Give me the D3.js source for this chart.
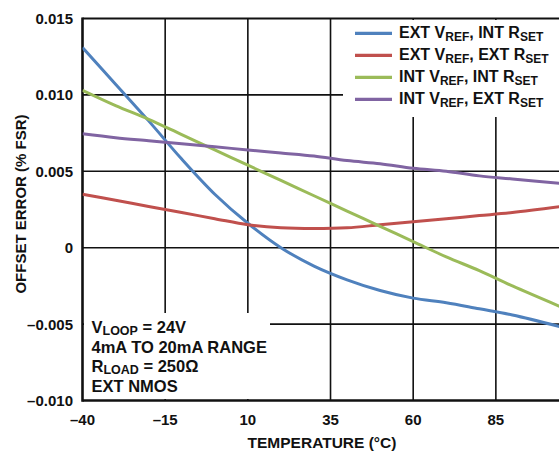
<!DOCTYPE html>
<html><head><meta charset="utf-8">
<script src="https://cdn.jsdelivr.net/npm/d3@7"></script>
<style>
html,body{margin:0;padding:0;background:#fff;}
text{font-family:"Liberation Sans",Arial,sans-serif;font-weight:bold;fill:#111;}
</style></head>
<body>
<svg id="chart" width="559" height="451"></svg>
<script>
const temps = [-40,-30,-20,-10,0,10,20,30,40,50,60,70,80,90,105];
const extRefIntSet = [0.0131,0.0107,0.0083,0.0058,0.0035,0.0016,0.0000,-0.0012,-0.0021,-0.0028,-0.0033,-0.0036,-0.0040,-0.0044,-0.0052];
const extRefExtSet = [0.0035,0.0031,0.0027,0.0023,0.0019,0.0015,0.0013,0.00125,0.0013,0.0015,0.0017,0.0019,0.0021,0.0023,0.0027];
const intRefIntSet = [0.0103,0.0093,0.0084,0.0074,0.0064,0.0054,0.0044,0.0034,0.0024,0.0014,0.0004,-0.0006,-0.0015,-0.0025,-0.0039];
const intRefExtSet = [0.00745,0.0072,0.0070,0.0068,0.0066,0.0064,0.0062,0.0060,0.0057,0.0055,0.0052,0.0050,0.0047,0.0045,0.0042];
const seriesNames = [["EXT V","REF",", INT R","SET"],["EXT V","REF",", EXT R","SET"],["INT V","REF",", INT R","SET"],["INT V","REF",", EXT R","SET"]];
const seriesColors = ["#4f81bd","#c0504d","#9bbb59","#8064a2"];
const xTicks = [-40,-15,10,35,60,85];
const yTicks = [-0.010,-0.005,0,0.005,0.010,0.015];
const yTickLabels = ["–0.010","–0.005","0","0.005","0.010","0.015"];
const notes = [["V","LOOP"," = 24V"],["4mA TO 20mA RANGE"],["R","LOAD"," = 250Ω"],["EXT NMOS"]];

const svg = d3.select("#chart");
const x = d3.scaleLinear().domain([-40,105]).range([82.5,562]);
const y = d3.scaleLinear().domain([-0.010,0.015]).range([400.5,18.5]);
const L=x.range()[0], R=x.range()[1], T=y.range()[1], B=y.range()[0];

// gridlines
const g = svg.append("g");
g.selectAll("line.v").data(xTicks.slice(1)).join("line")
  .attr("x1",d=>x(d)).attr("x2",d=>x(d)).attr("y1",T).attr("y2",B)
  .attr("stroke","#111").attr("stroke-width",1.6);
g.selectAll("line.h").data(yTicks.slice(1,-1)).join("line")
  .attr("x1",L).attr("x2",R).attr("y1",d=>y(d)).attr("y2",d=>y(d))
  .attr("stroke","#111").attr("stroke-width",1.6);

// boxes masking grid
svg.append("rect").attr("x",343).attr("y",T+1.5).attr("width",230).attr("height",117-T-1.5).attr("fill","#fff");
svg.append("rect").attr("x",L+1.5).attr("y",313).attr("width",270-L-1.5).attr("height",B-313-1.5).attr("fill","#fff");

// frame
svg.append("line").attr("x1",L).attr("x2",R).attr("y1",T).attr("y2",T).attr("stroke","#111").attr("stroke-width",2);
svg.append("line").attr("x1",L).attr("x2",R).attr("y1",B).attr("y2",B).attr("stroke","#111").attr("stroke-width",2.6);
svg.append("line").attr("x1",L).attr("x2",L).attr("y1",T-1).attr("y2",B+1.3).attr("stroke","#111").attr("stroke-width",2.6);

// curves
svg.append("clipPath").attr("id","clip").append("rect").attr("x",L).attr("y",T).attr("width",R-L).attr("height",B-T);
const allSeries = [extRefIntSet,extRefExtSet,intRefIntSet,intRefExtSet];
const line = d3.line().x((d,i)=>x(temps[i])).y(d=>y(d)).curve(d3.curveCatmullRom.alpha(0.5));
svg.append("g").attr("clip-path","url(#clip)").selectAll("path").data(allSeries).join("path")
  .attr("d",line).attr("fill","none").attr("stroke",(d,i)=>seriesColors[i]).attr("stroke-width",3);

// ticks labels
svg.selectAll("text.yt").data(yTicks).join("text").attr("class","yt")
  .attr("x",73).attr("y",d=>y(d)).attr("dy","0.36em").attr("text-anchor","end")
  .attr("font-size",15).text((d,i)=>yTickLabels[i]);
svg.selectAll("text.xt").data(xTicks).join("text").attr("class","xt")
  .attr("x",d=>x(d)).attr("y",425).attr("text-anchor","middle")
  .attr("font-size",15).text(d=>d<0?"–"+Math.abs(d):String(d));

// axis titles
svg.append("text").attr("x",322).attr("y",448).attr("text-anchor","middle").attr("font-size",15.5).text("TEMPERATURE (°C)");
svg.append("text").attr("transform","translate(26,204) rotate(-90)").attr("text-anchor","middle").attr("font-size",15).text("OFFSET ERROR (% FSR)");

// legend
const lg = svg.append("g");
seriesNames.forEach((nm,i)=>{
  const yy = 33.3 + i*22;
  lg.append("line").attr("x1",355).attr("x2",392).attr("y1",yy).attr("y2",yy).attr("stroke",seriesColors[i]).attr("stroke-width",3.2);
  const t = lg.append("text").attr("x",399).attr("y",yy+4.5).attr("font-size",16);
  t.append("tspan").text(nm[0]);
  t.append("tspan").attr("font-size",12).attr("dy",3.5).text(nm[1]);
  t.append("tspan").attr("dy",-3.5).text(nm[2]);
  t.append("tspan").attr("font-size",12).attr("dy",3.5).text(nm[3]);
});

// notes
const noteY = [333,353,372,392];
notes.forEach((n,i)=>{
  const t = svg.append("text").attr("x",91.5).attr("y",noteY[i]).attr("font-size",16.5);
  t.append("tspan").text(n[0]);
  if(n.length>1){
    t.append("tspan").attr("font-size",12.5).attr("dy",2).text(n[1]);
    t.append("tspan").attr("dy",-2).text(n[2]);
  }
});
</script>
</body></html>
